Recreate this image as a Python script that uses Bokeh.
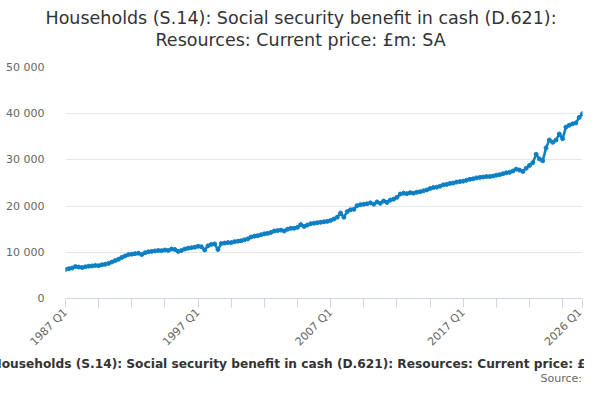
import math
from bokeh.plotting import figure
from bokeh.models import Range1d, FixedTicker, Title
from bokeh.embed import file_html
from bokeh.resources import INLINE

# quarterly categories 1987 Q1 .. 2026 Q1
first_year = 1987
last_year = 2026
quarters = []
for yr in range(first_year, last_year + 1):
    for q in range(1, 5):
        quarters.append(f"{yr} Q{q}")
quarters = quarters[: quarters.index("2026 Q1") + 1]

values = [
    6300, 6450, 6600, 6900, 6800, 6700, 6850, 7000, 7050, 7150,
    7100, 7300, 7400, 7600, 7900, 8200, 8500, 8900, 9200, 9500,
    9600, 9700, 9800, 9500, 9900, 10100, 10200, 10300, 10400, 10350,
    10500, 10400, 10700, 10600, 10200, 10400, 10700, 10900, 11000, 11100,
    11300, 11200, 10500, 11400, 11700, 11800, 10600, 11900, 12000, 12100,
    12100, 12300, 12400, 12500, 12700, 12900, 13300, 13500, 13600, 13800,
    14000, 14100, 14300, 14600, 14700, 14800, 14600, 15000, 15200, 15200,
    15400, 16000, 15600, 15900, 16200, 16300, 16400, 16500, 16600, 16700,
    16900, 17200, 17600, 18500, 17600, 18800, 19200, 19300, 20100, 20300,
    20400, 20500, 20700, 20400, 20900, 20600, 21100, 20800, 21300, 21500,
    21900, 22600, 22800, 22700, 22900, 22800, 23000, 23100, 23300, 23500,
    23800, 24000, 24100, 24300, 24600, 24700, 24900, 25000, 25200, 25300,
    25400, 25600, 25800, 25900, 26100, 26200, 26300, 26400, 26400, 26500,
    26700, 26800, 27000, 27200, 27300, 27600, 28000, 27800, 27500, 28200,
    28800, 29400, 31200, 30200, 29800, 32600, 34300, 33800, 34300, 35600,
    34600, 37100, 37500, 37800, 38000, 39200, 40000,
]

y_ticks = [0, 10000, 20000, 30000, 40000, 50000]
y_tick_labels = ["0", "10 000", "20 000", "30 000", "40 000", "50 000"]
x_label_quarters = ["1987 Q1", "1997 Q1", "2007 Q1", "2017 Q1", "2026 Q1"]

title_line1 = "Households (S.14): Social security benefit in cash (D.621):"
title_line2 = "Resources: Current price: \u00a3m: SA"
caption = "Households (S.14): Social security benefit in cash (D.621): Resources: Current price: \u00a3m: SA"
source = "Source: Office for National Statistics"

FONT = "DejaVu Sans"
idx = list(range(len(quarters)))

p = figure(width=584, height=384, output_backend="svg", toolbar_location=None,
           x_range=Range1d(0, len(quarters) - 1), y_range=Range1d(0, 50000),
           min_border_left=65, min_border_right=2, min_border_top=67,
           min_border_bottom=86)
p.title.visible = False
p.outline_line_color = None
p.background_fill_color = "white"
p.border_fill_color = "white"

# blank spacer between frame and the two title lines
spacer = Title(text="\u00a0", text_font=FONT, text_font_size="1px", standoff=15)
t2 = Title(text=title_line2, align="left", offset=90, text_font=FONT,
           text_font_size="17.5px", text_font_style="normal", text_color="#333333",
           standoff=0)
t1 = Title(text=title_line1, align="left", offset=-20, text_font=FONT,
           text_font_size="17.5px", text_font_style="normal", text_color="#333333",
           standoff=0)
p.add_layout(spacer, "above")
p.add_layout(t2, "above")
p.add_layout(t1, "above")

cap = Title(text=caption, align="left", offset=-74, text_font=FONT,
            text_font_size="12.2px", text_font_style="bold", text_color="#333333",
            standoff=-3)
src = Title(text=source, align="left", offset=475, text_font=FONT,
            text_font_size="11px", text_font_style="normal", text_color="#666666",
            standoff=0)
p.add_layout(cap, "below")
p.add_layout(src, "below")

# grid
p.xgrid.grid_line_color = None
p.ygrid.grid_line_color = "#e6e6e6"
p.ygrid.ticker = FixedTicker(ticks=y_ticks)

# y axis
p.yaxis.ticker = FixedTicker(ticks=y_ticks)
p.yaxis.major_label_overrides = {t: l for t, l in zip(y_ticks, y_tick_labels)}
p.yaxis.axis_line_color = None
p.yaxis.major_tick_line_color = None
p.yaxis.minor_tick_line_color = None
p.yaxis.major_label_standoff = 15
p.yaxis.major_label_text_font = FONT
p.yaxis.major_label_text_font_size = "11px"
p.yaxis.major_label_text_color = "#666666"

# x axis
x_ticks = list(range(0, len(quarters), 10)) + [len(quarters) - 1]
p.xaxis.ticker = FixedTicker(ticks=x_ticks)
overrides = {}
for t in x_ticks:
    overrides[t] = quarters[t] if quarters[t] in x_label_quarters else ""
p.xaxis.major_label_overrides = overrides
p.xaxis.axis_line_color = "#ccd6eb"
p.xaxis.major_tick_line_color = "#ccd6eb"
p.xaxis.major_tick_in = 0
p.xaxis.major_tick_out = 9
p.xaxis.minor_tick_line_color = None
p.xaxis.major_label_orientation = math.pi / 4
p.xaxis.major_label_standoff = 3
p.xaxis.major_label_text_font = FONT
p.xaxis.major_label_text_font_size = "11px"
p.xaxis.major_label_text_color = "#666666"

color = "#0d80c5"
p.line(idx, values, line_color=color, line_width=2.5)
p.scatter(idx, values, size=4, fill_color=color, line_color=color)

open("out.html", "w").write(file_html(p, INLINE))
